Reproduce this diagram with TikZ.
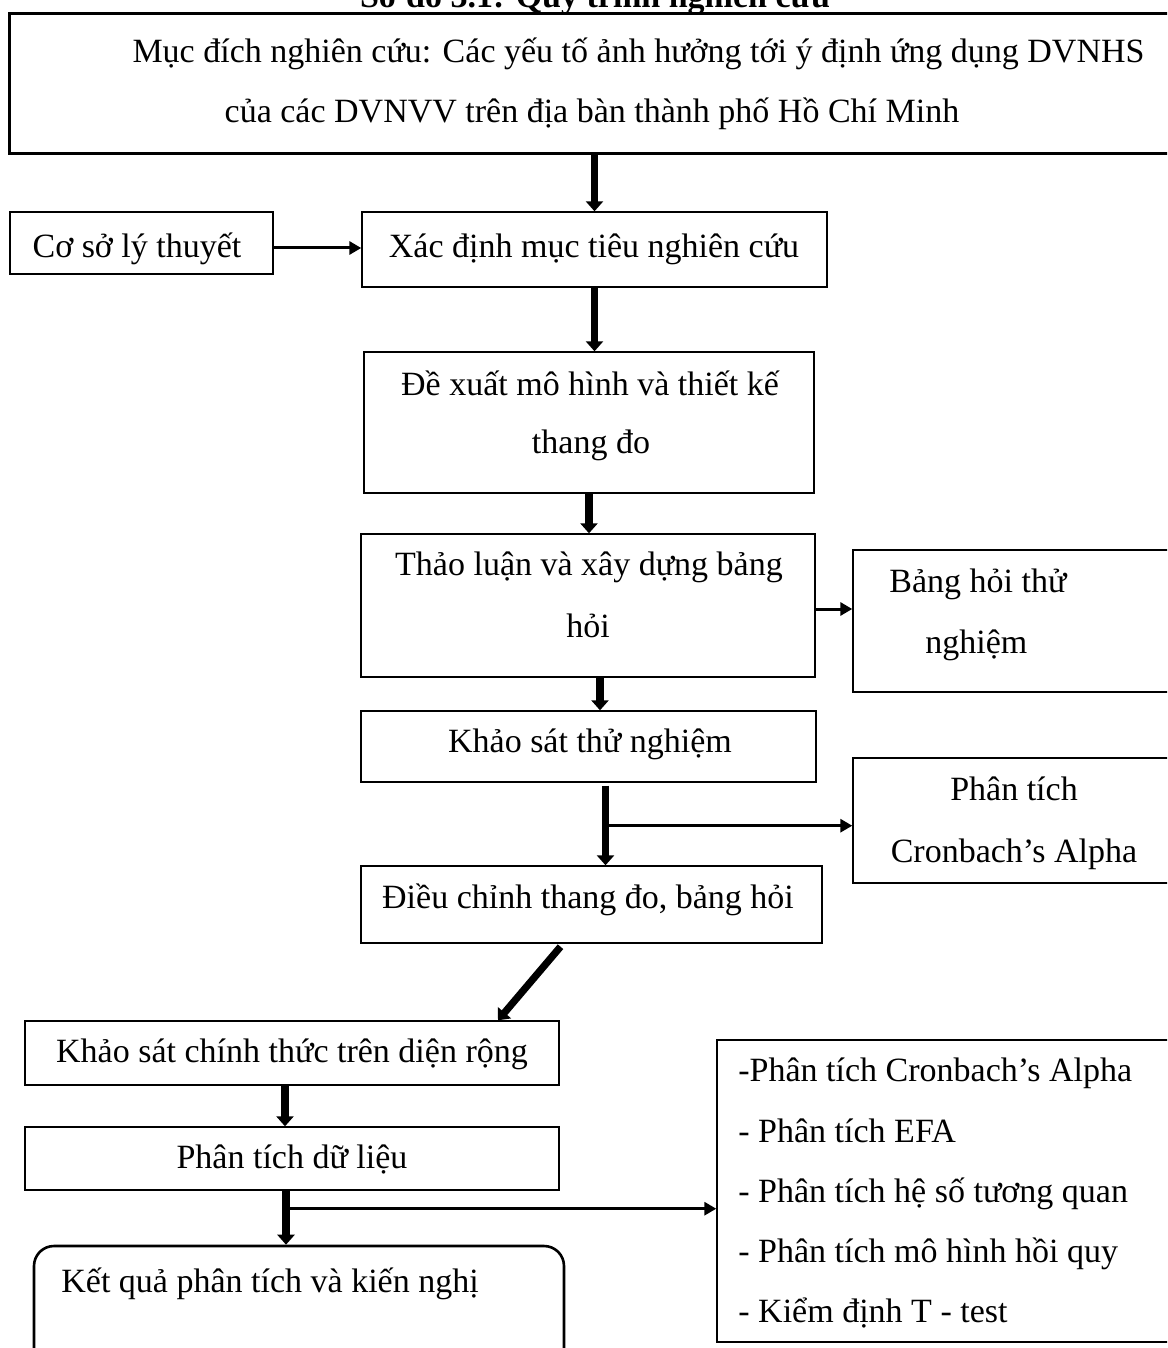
\documentclass[tikz,border=0pt]{standalone}
\usepackage{fontspec}
\setmainfont{Liberation Serif}
\usetikzlibrary{arrows.meta,fit}
\begin{document}
\begin{tikzpicture}[x=0.5pt,y=-0.5pt,
  box/.style={draw, line width=0.7pt, inner sep=0pt},
  txt/.style={anchor=base, inner sep=0pt, font=\fontsize{17}{20}\selectfont},
  txtl/.style={txt, anchor=base west},
  bigarrow/.style={line width=3.6pt, -{Triangle[length=5pt,width=8.5pt]}},
  smallarrow/.style={line width=1.5pt, -{Triangle[length=6pt,width=6.5pt]}}]
\useasboundingbox (0,0) rectangle (1167,1348);
\clip (0,0) rectangle (1167,1348);

% heading (its upper half lies above the page)
\node[txt] (title) at (595,8) {\bfseries Sơ đồ 3.1: Quy trình nghiên cứu};

% boxes
\node[box, line width=1.5pt, fit={(9,14) (1190,154)}] (top) {};
\node[box, fit={(10,212) (273,274)}] (cs) {};
\node[box, fit={(362,212) (827,287)}] (xd) {};
\node[box, fit={(364,352) (814,493)}] (dx) {};
\node[box, fit={(361,534) (815,677)}] (th) {};
\node[box, fit={(853,550) (1190,692)}] (bh) {};
\node[box, fit={(361,711) (816,782)}] (ks) {};
\node[box, fit={(853,758) (1190,883)}] (ca) {};
\node[box, fit={(361,866) (822,943)}] (dc) {};
\node[box, fit={(25,1021) (559,1085)}] (kc) {};
\node[box, fit={(25,1127) (559,1190)}] (pd) {};
\node[box, line width=1.3pt, rounded corners=10pt, fit={(34,1246) (564,1380)}] (kq) {};
\node[box, fit={(717,1040) (1190,1342)}] (ds) {};

% texts
\node[txt] (top-1) at (638.5,63) {Mục đích nghiên cứu: Các yếu tố ảnh hưởng tới ý định ứng dụng DVNHS};
\node[txt] (top-2) at (592,123) {của các DVNVV trên địa bàn thành phố Hồ Chí Minh};
\node[txt] (cs-t) at (137,257) {Cơ sở lý thuyết};
\node[txt] (xd-t) at (594,257) {Xác định mục tiêu nghiên cứu};
\node[txt] (dx-1) at (590,395) {Đề xuất mô hình và thiết kế};
\node[txt] (dx-2) at (591,453) {thang đo};
\node[txt] (th-1) at (589,575) {Thảo luận và xây dựng bảng};
\node[txt] (th-2) at (588,637) {hỏi};
\node[txtl] (bh-1) at (889,592) {Bảng hỏi thử};
\node[txtl] (bh-2) at (925,653) {nghiệm};
\node[txt] (ks-t) at (590,752) {Khảo sát thử nghiệm};
\node[txt] (ca-1) at (1014,800) {Phân tích};
\node[txt] (ca-2) at (1014,862) {Cronbach’s Alpha};
\node[txt] (dc-t) at (588,908) {Điều chỉnh thang đo, bảng hỏi};
\node[txt] (kc-t) at (292,1062) {Khảo sát chính thức trên diện rộng};
\node[txt] (pd-t) at (292,1168) {Phân tích dữ liệu};
\node[txtl] (kq-t) at (61,1292) {Kết quả phân tích và kiến nghị};
\node[txtl] (ds-1) at (738,1081) {-Phân tích Cronbach’s Alpha};
\node[txtl] (ds-2) at (738,1142) {- Phân tích EFA};
\node[txtl] (ds-3) at (738,1202) {- Phân tích hệ số tương quan};
\node[txtl] (ds-4) at (738,1262) {- Phân tích mô hình hồi quy};
\node[txtl] (ds-5) at (738,1322) {- Kiểm định T - test};

% connectors
\draw[bigarrow] (top.south -| xd.north) -- (xd.north);
\path (cs.east) ++(0,5) coordinate (p2);
\draw[smallarrow] (p2) -- (p2 -| xd.west);
\draw[bigarrow] (xd.south) -- (xd.south |- dx.north);
\draw[bigarrow] (dx.south) -- (dx.south |- th.north);
\path (th.east) ++(0,3.5) coordinate (p5);
\draw[smallarrow] (p5) -- (p5 -| bh.west);
\path (th.south) ++(12,0) coordinate (p6);
\draw[bigarrow] (p6) -- (p6 |- ks.north);
\path (ks.south) ++(17,3) coordinate (p7);
\draw[bigarrow] (p7) -- (p7 |- dc.north);
\path (p7) ++(0,40) coordinate (j7);
\draw[smallarrow] (j7) -- (j7 -| ca.west);
\path (dc.south) ++(-31,3) coordinate (p8);
\path (kc.north) ++(206,0) coordinate (q8);
\draw[bigarrow] (p8) -- (q8);
\path (kc.south) ++(-7,0) coordinate (p9);
\draw[bigarrow] (p9) -- (p9 |- pd.north);
\path (pd.south) ++(-6,0) coordinate (p10);
\draw[bigarrow] (p10) -- (p10 |- kq.north);
\path (p10) ++(0,18) coordinate (j10);
\draw[smallarrow] (j10) -- (j10 -| ds.west);
\end{tikzpicture}
\end{document}
